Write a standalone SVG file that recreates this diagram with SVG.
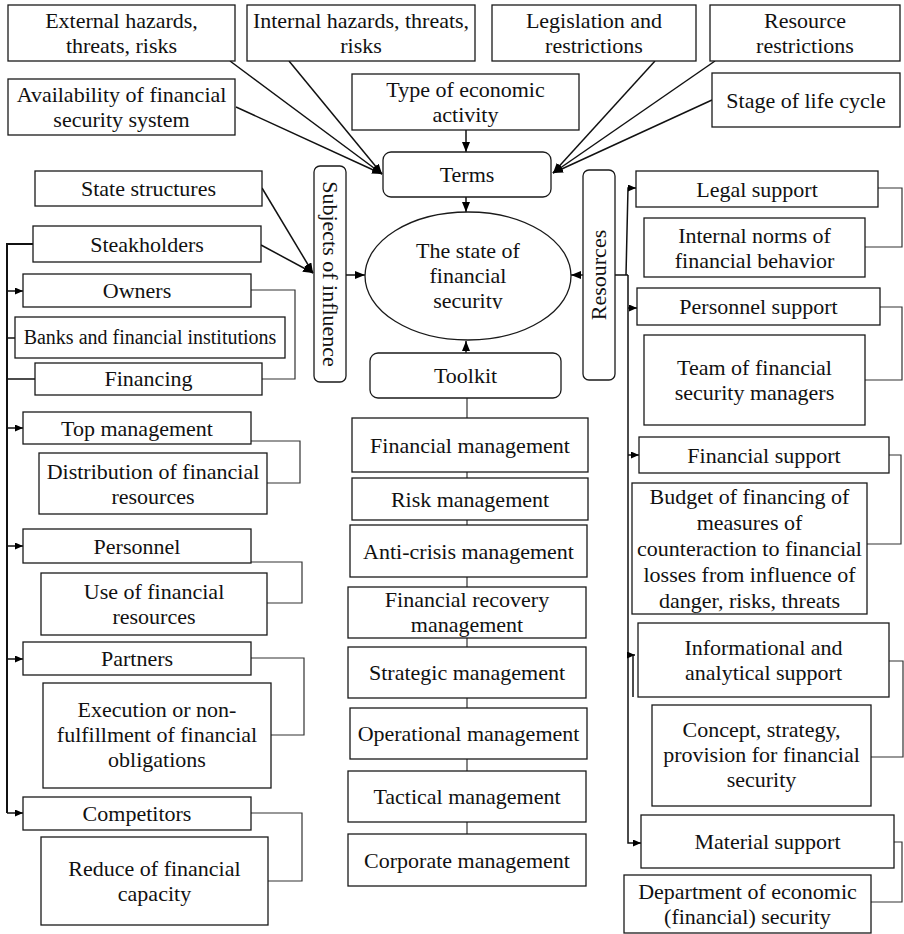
<svg xmlns="http://www.w3.org/2000/svg" width="904" height="934" viewBox="0 0 904 934">
  <style>
    .box { fill: #fff; stroke: #1a1a1a; stroke-width: 1.3; }
    text { font-family: 'Liberation Serif', 'Tinos', 'DejaVu Serif', serif; font-size: 22px; fill: #111; text-anchor: middle; }
    .t20 { font-size: 20px; }
    .ln { fill: none; stroke: #111; stroke-width: 1.5; }
    .br { fill: none; stroke: #333; stroke-width: 1.2; }
    .bus { fill: none; stroke: #111; stroke-width: 2; }
  </style>
  <defs>
    <marker id="arr" markerUnits="userSpaceOnUse" markerWidth="11" markerHeight="8" refX="10" refY="4" orient="auto">
      <path d="M0,0 L10,4 L0,8 z" fill="#000"/>
    </marker>
    <marker id="arrS" markerUnits="userSpaceOnUse" markerWidth="9" markerHeight="7" refX="8" refY="3.5" orient="auto">
      <path d="M0,0 L8,3.5 L0,7 z" fill="#000"/>
    </marker>
    <clipPath id="ellClip">
      <rect x="360" y="200" width="220" height="109"/>
    </clipPath>
  </defs>

  <!-- connectors -->
  <g id="connectors">
    <!-- factors converging on Terms -->
    <path class="ln" d="M230,61 L382,174" marker-end="url(#arr)"/>
    <path class="ln" d="M289,61 L382,174" marker-end="url(#arr)"/>
    <path class="ln" d="M236,107 L382,174" marker-end="url(#arr)"/>
    <path class="ln" d="M655,61 L553,173" marker-end="url(#arr)"/>
    <path class="ln" d="M715,61 L553,173" marker-end="url(#arr)"/>
    <path class="ln" d="M712,100 L553,173" marker-end="url(#arr)"/>
    <path class="ln" d="M466,130 V152" marker-end="url(#arr)"/>
    <!-- into the central ellipse -->
    <path class="ln" d="M466,197 V212" marker-end="url(#arr)"/>
    <path class="ln" d="M466,353 V341" marker-end="url(#arr)"/>
    <path class="ln" d="M346,275 H365" marker-end="url(#arr)"/>
    <path class="ln" d="M583,275 H571" marker-end="url(#arr)"/>
    <!-- subjects of influence -->
    <path class="ln" d="M262,188 L313,273" marker-end="url(#arr)"/>
    <path class="ln" d="M261,245 L313,273" marker-end="url(#arr)"/>
    <!-- toolkit chain -->
    <path class="br" d="M467,398 V834"/>
    <!-- left bus -->
    <path class="bus" d="M33,244 H7 V813"/>
    <path class="ln" d="M7,291 H23" marker-end="url(#arrS)"/>
    <path class="ln" d="M7,338 H15"/>
    <path class="ln" d="M7,379 H35"/>
    <path class="ln" d="M7,428 H23" marker-end="url(#arrS)"/>
    <path class="ln" d="M7,546 H23" marker-end="url(#arrS)"/>
    <path class="ln" d="M7,659 H23" marker-end="url(#arrS)"/>
    <path class="ln" d="M7,813 H23" marker-end="url(#arrS)"/>
    <!-- left brackets -->
    <path class="br" d="M251,290 H295 V379 H262"/>
    <path class="br" d="M251,441 H300 V483 H267"/>
    <path class="br" d="M251,562 H302 V603 H267"/>
    <path class="br" d="M251,658 H304 V735 H271"/>
    <path class="br" d="M251,813 H302 V881 H268"/>
    <!-- right bus -->
    <path class="ln" d="M615,275 H628"/>
    <path class="ln" d="M626,275 L628,188 H636" marker-end="url(#arrS)"/>
    <path class="ln" d="M628,275 V843 H641" marker-end="url(#arrS)"/>
    <path class="ln" d="M628,308 H637" marker-end="url(#arrS)"/>
    <path class="ln" d="M628,455 H639" marker-end="url(#arrS)"/>
    <path class="ln" d="M628,655 H635" marker-end="url(#arrS)"/>
    <path class="ln" d="M633,655 V697"/>
    <!-- right brackets -->
    <path class="br" d="M878,188 H902 V247 H865"/>
    <path class="br" d="M880,307 H902 V380 H865"/>
    <path class="br" d="M889,455 H901 V544 H867"/>
    <path class="br" d="M889,661 H903 V757 H871"/>
    <path class="br" d="M894,842 H902 V902 H871"/>
  </g>

  <!-- top factors -->
  <g id="external">
    <rect class="box" x="8" y="5" width="227" height="56"/>
    <text x="121.5" y="28">External hazards,</text>
    <text x="121.5" y="53">threats, risks</text>
  </g>
  <g id="internal">
    <rect class="box" x="247" y="5" width="228" height="56"/>
    <text x="361" y="28">Internal hazards, threats,</text>
    <text x="361" y="53">risks</text>
  </g>
  <g id="legislation">
    <rect class="box" x="492" y="5" width="204" height="56"/>
    <text x="594" y="28">Legislation and</text>
    <text x="594" y="53">restrictions</text>
  </g>
  <g id="resource-restrictions">
    <rect class="box" x="710" y="5" width="190" height="56"/>
    <text x="805" y="28">Resource</text>
    <text x="805" y="53">restrictions</text>
  </g>
  <g id="availability">
    <rect class="box" x="8" y="79" width="227" height="56"/>
    <text x="121.5" y="102">Availability of financial</text>
    <text x="121.5" y="127">security system</text>
  </g>
  <g id="activity-type">
    <rect class="box" x="352" y="74" width="227" height="56"/>
    <text x="465.5" y="97">Type of economic</text>
    <text x="465.5" y="122">activity</text>
  </g>
  <g id="life-cycle">
    <rect class="box" x="712" y="73" width="188" height="54"/>
    <text x="806" y="107.5">Stage of life cycle</text>
  </g>

  <!-- centre -->
  <g id="terms">
    <rect class="box" x="383" y="152" width="168" height="45" rx="8"/>
    <text x="467" y="182">Terms</text>
  </g>
  <g id="state">
    <ellipse class="box" cx="468" cy="276" rx="103" ry="64"/>
    <text x="468" y="258">The state of</text>
    <text x="468" y="283">financial</text>
    <text x="468" y="308" clip-path="url(#ellClip)">security</text>
  </g>
  <g id="toolkit">
    <rect class="box" x="370" y="353" width="191" height="45" rx="8"/>
    <text x="465.5" y="383">Toolkit</text>
  </g>
  <g id="subjects">
    <rect class="box" x="314" y="166" width="32" height="216" rx="6"/>
    <text transform="translate(330,274) rotate(90)" y="7">Subjects of influence</text>
  </g>
  <g id="resources">
    <rect class="box" x="583" y="170" width="32" height="210" rx="6"/>
    <text transform="translate(599,275) rotate(-90)" y="7">Resources</text>
  </g>

  <!-- subjects of influence -->
  <g id="state-structures">
    <rect class="box" x="35" y="171" width="227" height="35"/>
    <text x="148.5" y="196">State structures</text>
  </g>
  <g id="steakholders">
    <rect class="box" x="33" y="226" width="228" height="36"/>
    <text x="147" y="251.5">Steakholders</text>
  </g>
  <g id="owners">
    <rect class="box" x="23" y="274" width="228" height="33"/>
    <text x="137" y="298">Owners</text>
  </g>
  <g id="banks">
    <rect class="box" x="15" y="317" width="270" height="41"/>
    <text class="t20" x="150" y="344">Banks and financial institutions</text>
  </g>
  <g id="financing">
    <rect class="box" x="35" y="363" width="227" height="32"/>
    <text x="148.5" y="386">Financing</text>
  </g>
  <g id="top-management">
    <rect class="box" x="23" y="412" width="228" height="32"/>
    <text x="137" y="435.5">Top management</text>
  </g>
  <g id="distribution">
    <rect class="box" x="39" y="453" width="228" height="61"/>
    <text x="153" y="478.5">Distribution of financial</text>
    <text x="153" y="503.5">resources</text>
  </g>
  <g id="personnel">
    <rect class="box" x="23" y="529" width="228" height="34"/>
    <text x="137" y="553.5">Personnel</text>
  </g>
  <g id="use-of-resources">
    <rect class="box" x="41" y="573" width="226" height="62"/>
    <text x="154" y="599">Use of financial</text>
    <text x="154" y="624">resources</text>
  </g>
  <g id="partners">
    <rect class="box" x="23" y="642" width="228" height="33"/>
    <text x="137" y="666">Partners</text>
  </g>
  <g id="execution">
    <rect class="box" x="43" y="683" width="228" height="105"/>
    <text x="157" y="717">Execution or non-</text>
    <text x="157" y="742">fulfillment of financial</text>
    <text x="157" y="767">obligations</text>
  </g>
  <g id="competitors">
    <rect class="box" x="23" y="797" width="228" height="33"/>
    <text x="137" y="821">Competitors</text>
  </g>
  <g id="reduce">
    <rect class="box" x="41" y="837" width="227" height="88"/>
    <text x="154.5" y="876">Reduce of financial</text>
    <text x="154.5" y="901">capacity</text>
  </g>

  <!-- toolkit items -->
  <g id="financial-management">
    <rect class="box" x="352" y="418" width="236" height="54"/>
    <text x="470" y="452.5">Financial management</text>
  </g>
  <g id="risk-management">
    <rect class="box" x="352" y="478" width="236" height="42"/>
    <text x="470" y="506.5">Risk management</text>
  </g>
  <g id="anti-crisis">
    <rect class="box" x="350" y="525" width="237" height="52"/>
    <text x="468.5" y="558.5">Anti-crisis management</text>
  </g>
  <g id="recovery">
    <rect class="box" x="348" y="587" width="238" height="51"/>
    <text x="467" y="607">Financial recovery</text>
    <text x="467" y="632">management</text>
  </g>
  <g id="strategic">
    <rect class="box" x="348" y="647" width="238" height="51"/>
    <text x="467" y="680">Strategic management</text>
  </g>
  <g id="operational">
    <rect class="box" x="350" y="708" width="237" height="51"/>
    <text x="468.5" y="741">Operational management</text>
  </g>
  <g id="tactical">
    <rect class="box" x="348" y="771" width="238" height="51"/>
    <text x="467" y="804">Tactical management</text>
  </g>
  <g id="corporate">
    <rect class="box" x="348" y="834" width="238" height="52"/>
    <text x="467" y="867.5">Corporate management</text>
  </g>

  <!-- resources -->
  <g id="legal-support">
    <rect class="box" x="636" y="171" width="242" height="36"/>
    <text x="757" y="196.5">Legal support</text>
  </g>
  <g id="internal-norms">
    <rect class="box" x="644" y="218" width="221" height="59"/>
    <text x="754.5" y="242.5">Internal norms of</text>
    <text x="754.5" y="267.5">financial behavior</text>
  </g>
  <g id="personnel-support">
    <rect class="box" x="637" y="288" width="243" height="37"/>
    <text x="758.5" y="314">Personnel support</text>
  </g>
  <g id="team">
    <rect class="box" x="644" y="335" width="221" height="90"/>
    <text x="754.5" y="375">Team of financial</text>
    <text x="754.5" y="400">security managers</text>
  </g>
  <g id="financial-support">
    <rect class="box" x="639" y="437" width="250" height="36"/>
    <text x="764" y="462.5">Financial support</text>
  </g>
  <g id="budget">
    <rect class="box" x="632" y="483" width="235" height="131"/>
    <text x="749.5" y="504">Budget of financing of</text>
    <text x="749.5" y="530">measures of</text>
    <text x="749.5" y="556">counteraction to financial</text>
    <text x="749.5" y="582">losses from influence of</text>
    <text x="749.5" y="608">danger, risks, threats</text>
  </g>
  <g id="informational-support">
    <rect class="box" x="638" y="623" width="251" height="74"/>
    <text x="763.5" y="655">Informational and</text>
    <text x="763.5" y="680">analytical support</text>
  </g>
  <g id="concept">
    <rect class="box" x="652" y="705" width="219" height="101"/>
    <text x="761.5" y="737">Concept, strategy,</text>
    <text x="761.5" y="762">provision for financial</text>
    <text x="761.5" y="787">security</text>
  </g>
  <g id="material-support">
    <rect class="box" x="641" y="815" width="253" height="53"/>
    <text x="767.5" y="848.5">Material support</text>
  </g>
  <g id="department">
    <rect class="box" x="624" y="875" width="247" height="58"/>
    <text x="747.5" y="899">Department of economic</text>
    <text x="747.5" y="924">(financial) security</text>
  </g>
</svg>
